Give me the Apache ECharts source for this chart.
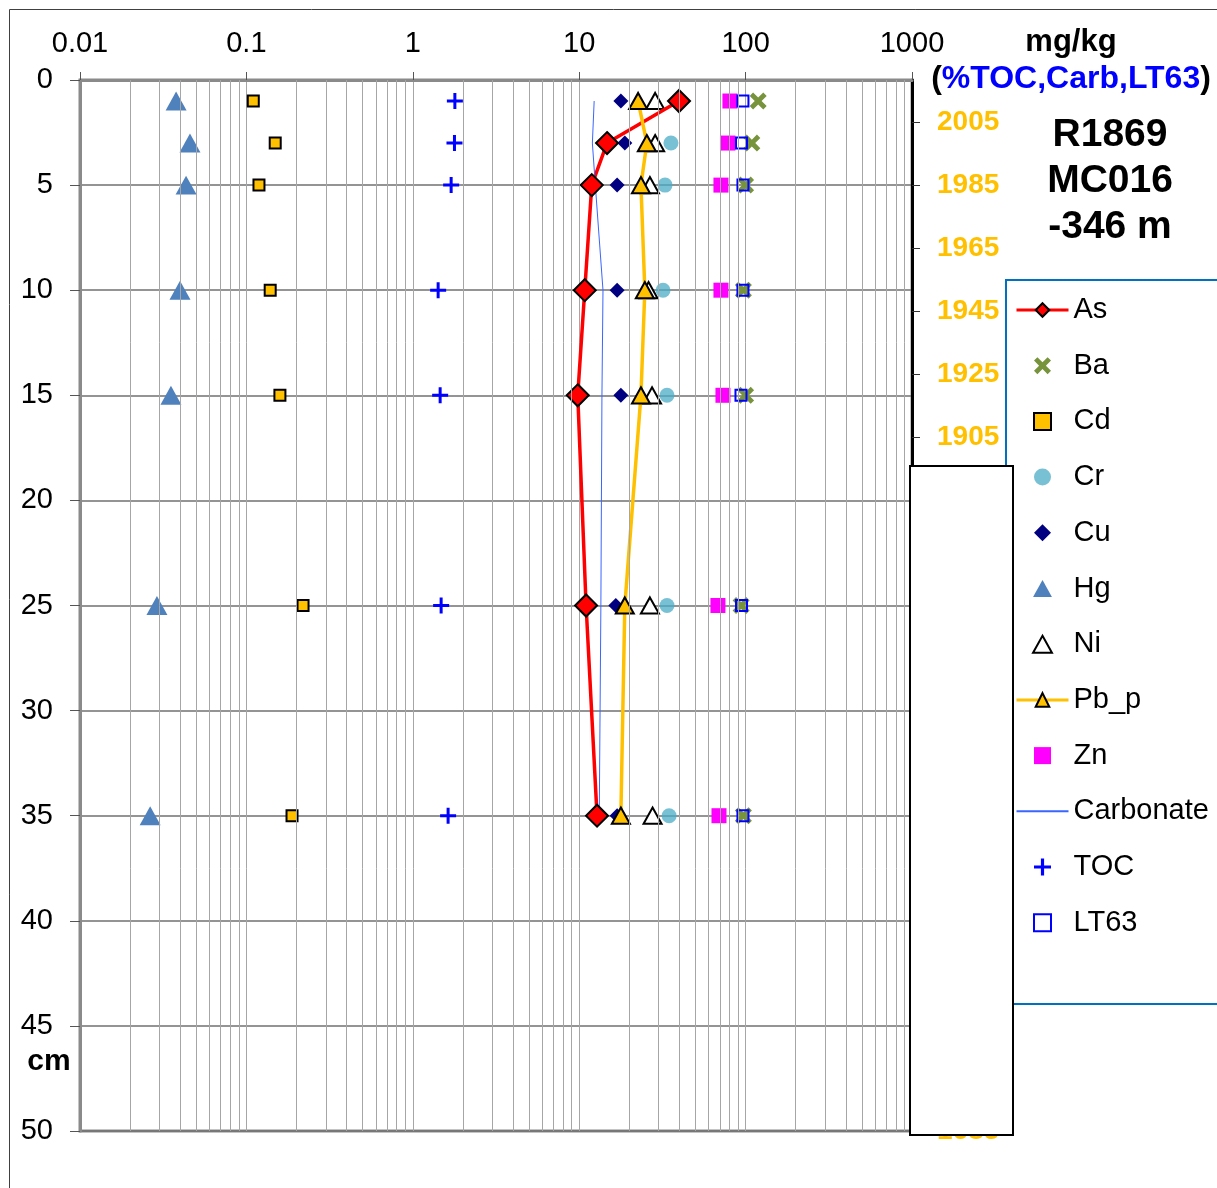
<!DOCTYPE html>
<html>
<head>
<meta charset="utf-8">
<script src="https://cdn.jsdelivr.net/npm/echarts@6/dist/echarts.min.js"></script>
<style>
html, body { margin: 0; padding: 0; background: #fff; }
#main { width: 1217px; height: 1188px; }
</style>
</head>
<body>
<div id="main"></div>
<script>
// depth of each sample (cm)
var depths = [1, 3, 5, 10, 15, 25, 35];

// mg/kg, or % for TOC, Carbonate, LT63
var asVals   = [39.8, 14.7, 11.9, 10.8, 9.8, 11.0, 12.8];
var baVals   = [119, 109, 100, 97, 100, 94, 97];
var cdVals   = [0.11, 0.149, 0.119, 0.139, 0.159, 0.219, 0.188];
var crVals   = [40, 35.6, 32.8, 31.9, 33.7, 33.7, 34.7];
var cuVals   = [17.8, 18.8, 16.9, 16.9, 17.8, 16.6, 16.9];
var hgVals   = [0.0378, 0.0458, 0.0434, 0.0399, 0.0352, 0.029, 0.0264];
var niVals   = [28.6, 28.6, 26.6, 26.1, 27.4, 26.6, 27.6];
var pbVals   = [22.6, 25.5, 23.5, 24.8, 23.5, 18.8, 17.8];
var znVals   = [80.5, 78.3, 71.1, 71.1, 73.1, 68.2, 69.2];
var carbVals = [12.3, 12.0, 12.5, 13.9, 13.7, 13.5, 13.2];
var tocVals  = [1.79, 1.78, 1.70, 1.42, 1.46, 1.48, 1.63];
var lt63Vals = [96.4, 94.5, 96.4, 96.4, 93.8, 94.5, 96.4];

var xTickLabels = ['0.01', '0.1', '1', '10', '100', '1000'];
var yearTicks = [2005, 1985, 1965, 1945, 1925, 1905, 1885, 1865, 1845,
                 1825, 1805, 1785, 1765, 1745, 1725, 1705, 1685];

var legendNames = ['As', 'Ba', 'Cd', 'Cr', 'Cu', 'Hg', 'Ni', 'Pb_p', 'Zn', 'Carbonate', 'TOC', 'LT63'];

function pts(vals) {
    return vals.map(function (v, i) { return [v, depths[i]]; });
}

// year -> depth on the core (20 years per 3 cm, 2005 at 2 cm)
function yearDepth(yr) {
    return 2 + (2005 - yr) * 3 / 20;
}

// minor gridlines of the log axis (2..9 in each decade)
var minorX = [];
for (var e = -2; e < 3; e++) {
    for (var m = 2; m < 10; m++) {
        minorX.push(m * Math.pow(10, e));
    }
}

// path markers so the legend keeps their shape
var plusPath = 'path://M6.5,0H9.5V6.5H16V9.5H9.5V16H6.5V9.5H0V6.5H6.5Z';
var crossPath = 'path://M0,2L2,0L5,3L8,0L10,2L7,5L10,8L8,10L5,7L2,10L0,8L3,5Z';
var squarePath = 'path://M0,0H10V10H0Z';
var diamondPath = 'path://M5,0L10,5L5,10L0,5Z';
var trianglePath = 'path://M5,0L10,9H0Z';

var font = 'Liberation Sans, Arial, sans-serif';

// legend entries; line series get a thicker stroke, carbonate no marker
var legendData = legendNames.map(function (n) {
    if (n === 'As' || n === 'Pb_p') {
        return { name: n, lineStyle: { width: 3 } };
    }
    if (n === 'Carbonate') {
        return { name: n, itemStyle: { color: 'rgba(0,0,0,0)', borderWidth: 0 } };
    }
    return n;
});

var myChart = echarts.init(document.getElementById('main'));

var option = {
    animation: false,
    backgroundColor: '#fff',
    textStyle: { fontFamily: font },
    grid: {
        left: 80, top: 80, right: 305, bottom: 57,
        show: true, borderColor: '#8a8a8a', borderWidth: 3,
        backgroundColor: 'transparent'
    },
    xAxis: {
        type: 'log',
        logBase: 10,
        position: 'top',
        min: 0.01,
        max: 1000,
        axisLine: { lineStyle: { color: '#8a8a8a', width: 3 } },
        axisTick: { length: 8, lineStyle: { color: '#555', width: 1 } },
        axisLabel: {
            margin: 22, fontSize: 29, color: '#000', fontFamily: font,
            formatter: function (v) {
                return xTickLabels[Math.round(Math.log(v) / Math.LN10) + 2];
            }
        },
        splitLine: { show: true, lineStyle: { color: '#a6a6a6', width: 1 } }
    },
    yAxis: [{
        type: 'value',
        inverse: true,
        min: 0,
        max: 50,
        interval: 5,
        axisLine: { show: true, lineStyle: { color: '#8a8a8a', width: 3 } },
        axisTick: { show: true, length: 10, lineStyle: { color: '#555', width: 1 } },
        axisLabel: { margin: 27, fontSize: 29, color: '#000', fontFamily: font },
        splitLine: { show: true, lineStyle: { color: '#707070', width: 1.5 } }
    }, {
        type: 'value',
        inverse: true,
        position: 'right',
        min: 0,
        max: 50,
        axisLine: { show: true, lineStyle: { color: '#000', width: 3 } },
        axisTick: {
            show: true, length: 8, lineStyle: { color: '#333', width: 1 },
            customValues: yearTicks.map(yearDepth)
        },
        axisLabel: {
            margin: 25, fontSize: 28, fontWeight: 'bold', color: '#ffc000', fontFamily: font,
            customValues: yearTicks.map(yearDepth),
            formatter: function (d) {
                return String(Math.round(2005 - (d - 2) * 20 / 3));
            }
        },
        splitLine: { show: false }
    }],
    legend: {
        orient: 'vertical',
        left: 1010,
        top: 290,
        itemWidth: 52,
        itemHeight: 17,
        itemGap: 25.7,
        data: legendData,
        textStyle: { fontSize: 29, color: '#000', fontFamily: font, lineHeight: 30 }
    },
    series: [{
        name: 'grid',
        type: 'line',
        data: [],
        z: -1,
        silent: true,
        markLine: {
            silent: true,
            symbol: ['none', 'none'],
            label: { show: false },
            lineStyle: { color: '#a6a6a6', width: 1, type: 'solid' },
            data: minorX.map(function (v) { return { xAxis: v }; })
        }
    }, {
        name: 'As', type: 'line', data: pts(asVals),
        symbol: diamondPath, symbolSize: 22, symbolKeepAspect: true,
        lineStyle: { color: '#ff0000', width: 3.5 },
        itemStyle: { color: '#ff0000', borderColor: '#000', borderWidth: 2 }
    }, {
        name: 'Ba', type: 'scatter', data: pts(baVals),
        symbol: crossPath, symbolSize: 17, symbolKeepAspect: true,
        itemStyle: { color: '#77933c', opacity: 1 }
    }, {
        name: 'Cd', type: 'scatter', data: pts(cdVals),
        symbol: squarePath, symbolSize: 11, symbolKeepAspect: true,
        itemStyle: { color: '#ffc000', borderColor: '#000', borderWidth: 2, opacity: 1 }
    }, {
        name: 'Cu', type: 'scatter', data: pts(cuVals),
        symbol: diamondPath, symbolSize: 15, symbolKeepAspect: true,
        itemStyle: { color: '#000080', opacity: 1 }
    }, {
        name: 'Hg', type: 'scatter', data: pts(hgVals),
        symbol: trianglePath, symbolSize: 21, symbolKeepAspect: true,
        itemStyle: { color: '#4f81bd', opacity: 1 }
    }, {
        name: 'Pb_p', type: 'line', data: pts(pbVals),
        symbol: trianglePath, symbolSize: 18, symbolKeepAspect: true,
        lineStyle: { color: '#ffc000', width: 3.5 },
        itemStyle: { color: '#ffc000', borderColor: '#000', borderWidth: 2 }
    }, {
        name: 'Ni', type: 'scatter', data: pts(niVals),
        symbol: trianglePath, symbolSize: 18, symbolKeepAspect: true,
        itemStyle: { color: '#fff', borderColor: '#000', borderWidth: 2, opacity: 1 }
    }, {
        name: 'Cr', type: 'scatter', data: pts(crVals),
        symbol: 'circle', symbolSize: 15, symbolKeepAspect: true,
        itemStyle: { color: '#4bacc6', opacity: 0.75 }
    }, {
        name: 'Zn', type: 'scatter', data: pts(znVals),
        symbol: squarePath, symbolSize: 15, symbolKeepAspect: true,
        itemStyle: { color: '#ff00ff', opacity: 1 }
    }, {
        name: 'Carbonate', type: 'line', data: pts(carbVals),
        symbol: 'none',
        lineStyle: { color: '#3a66ff', width: 1 },
        itemStyle: { color: '#3a66ff' }
    }, {
        name: 'TOC', type: 'scatter', data: pts(tocVals),
        symbol: plusPath, symbolSize: 16, symbolKeepAspect: true,
        itemStyle: { color: '#0000ff', opacity: 1 }
    }, {
        name: 'LT63', type: 'scatter', data: pts(lt63Vals),
        symbol: squarePath, symbolSize: 11, symbolKeepAspect: true,
        itemStyle: { color: 'rgba(0,0,0,0)', borderColor: '#0000ff', borderWidth: 2, opacity: 1 }
    }],
    graphic: [{
        type: 'rect', z: 50, silent: true,
        shape: { x: 9.5, y: 9.5, width: 1240, height: 1240 },
        style: { fill: 'none', stroke: '#404040', lineWidth: 1 }
    }, {
        type: 'rect', z: 60, silent: true,
        shape: { x: 1006, y: 280, width: 260, height: 724 },
        style: { fill: 'none', stroke: '#0070c0', lineWidth: 2 }
    }, {
        type: 'rect', z: 70, silent: true,
        shape: { x: 910, y: 466, width: 103, height: 669 },
        style: { fill: '#fff', stroke: '#000', lineWidth: 2 }
    }, {
        type: 'text', z: 80, silent: true, x: 1071, y: 42,
        style: { text: 'mg/kg', font: 'bold 31px ' + font, fill: '#000', align: 'center', verticalAlign: 'middle' }
    }, {
        type: 'text', z: 80, silent: true, x: 1071, y: 79,
        style: {
            text: '{k|(}{b|%TOC,Carb,LT63}{k|)}',
            align: 'center', verticalAlign: 'middle',
            rich: {
                k: { fill: '#000', fontSize: 32, fontWeight: 'bold', fontFamily: font },
                b: { fill: '#0000ff', fontSize: 32, fontWeight: 'bold', fontFamily: font }
            }
        }
    }, {
        type: 'text', z: 80, silent: true, x: 1110, y: 135,
        style: { text: 'R1869', font: 'bold 39px ' + font, fill: '#000', align: 'center', verticalAlign: 'middle' }
    }, {
        type: 'text', z: 80, silent: true, x: 1110, y: 181,
        style: { text: 'MC016', font: 'bold 39px ' + font, fill: '#000', align: 'center', verticalAlign: 'middle' }
    }, {
        type: 'text', z: 80, silent: true, x: 1110, y: 227,
        style: { text: '-346 m', font: 'bold 39px ' + font, fill: '#000', align: 'center', verticalAlign: 'middle' }
    }, {
        type: 'text', z: 80, silent: true, x: 49, y: 1062,
        style: { text: 'cm', font: 'bold 30px ' + font, fill: '#000', align: 'center', verticalAlign: 'middle' }
    }]
};

myChart.setOption(option);
</script>
</body>
</html>
